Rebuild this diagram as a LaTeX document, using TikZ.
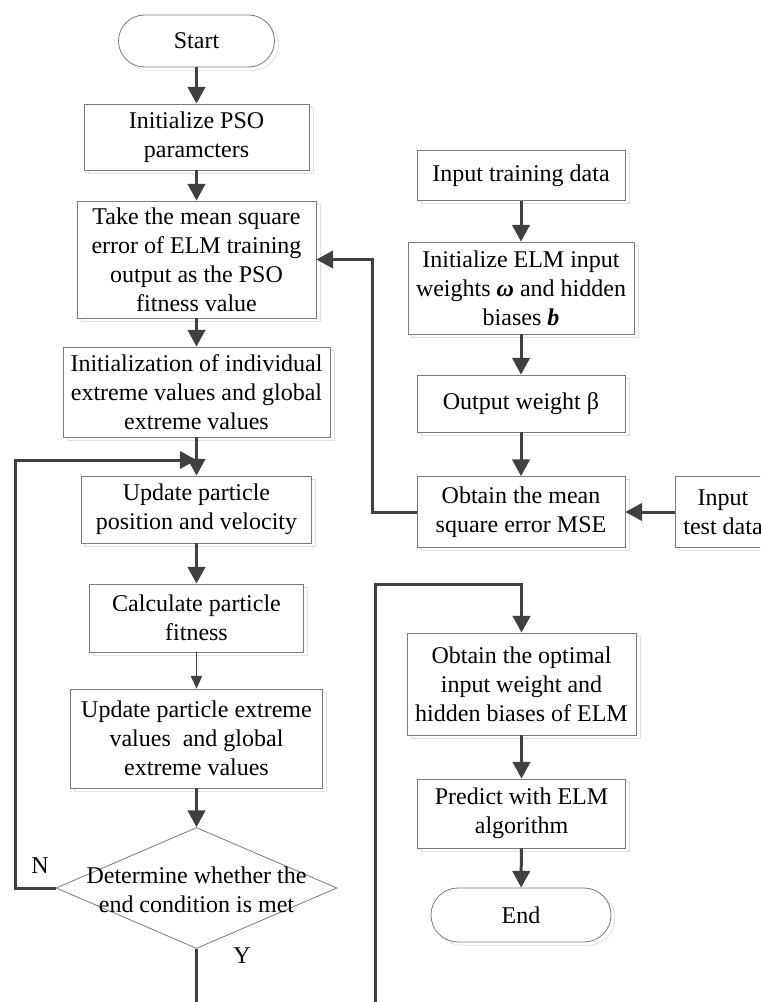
\documentclass[tikz,border=0pt]{standalone}
\usepackage{fontspec}
\setmainfont{Liberation Serif}
\usetikzlibrary{arrows.meta,shapes.geometric,shadows}
\definecolor{linegray}{HTML}{404040}
\definecolor{boxgray}{HTML}{7A7A7A}
\begin{document}
\begin{tikzpicture}[x=0.75pt,y=-0.75pt,
  font=\fontsize{18}{21.75}\selectfont,
  box/.style={draw=boxgray, line width=0.6pt, fill=white, align=center, inner sep=0pt,
    copy shadow={shadow xshift=3pt, shadow yshift=-2.5pt, draw=black!12, fill=white}},
  pill/.style={box, rounded corners=#1},
  decision/.style={diamond, draw=boxgray, line width=0.6pt, fill=white, inner sep=0pt},
  thickarr/.style={draw=linegray, line width=2.25pt, -{Triangle[length=12.5pt,width=13pt]}},
  thinarr/.style={draw=linegray, line width=0.75pt, -{Triangle[length=9.5pt,width=8.5pt]}},
  thickline/.style={draw=linegray, line width=2.25pt},
  lbl/.style={inner sep=0pt}]
\useasboundingbox (0,0) rectangle (760,1002);
\clip (0,0) rectangle (760,1002);

% left column
\node[pill=19.5pt, minimum width=117pt, minimum height=39pt] (start) at (196.5,41) {Start};
\node[box, minimum width=168.75pt, minimum height=49.5pt] (init) at (196.5,137) {Initialize PSO\\paramcters};
\node[box, minimum width=179.25pt, minimum height=87.75pt] (take) at (196.5,259.5) {Take the mean square\\error of ELM training\\output as the PSO\\fitness value};
\node[box, minimum width=200.25pt, minimum height=67.5pt] (initext) at (196.5,392) {Initialization of individual\\extreme values and global\\extreme values};
\node[box, minimum width=172.5pt, minimum height=50.25pt] (update) at (196.5,509.5) {Update particle\\position and velocity};
\node[box, minimum width=160.5pt, minimum height=51pt] (calc) at (196.5,618) {Calculate particle\\fitness};
\node[box, minimum width=189pt, minimum height=74.25pt] (upext) at (196.5,738.5) {Update particle extreme\\values\ \ and global\\extreme values};
\node[decision, minimum width=210.75pt, minimum height=90.75pt] (dec) at (196.5,888) {};
\node[lbl, align=center] (dectext) at (196.5,890) {Determine whether the\\end condition is met};
\node[lbl] (nlbl) at (40,866) {N};
\node[lbl] (ylbl) at (242,956) {Y};

% right column
\node[box, minimum width=156pt, minimum height=37.5pt] (train) at (521,175.5) {Input training data};
\node[box, minimum width=169.5pt, minimum height=69pt] (initelm) at (521,288) {Initialize ELM input\\weights {\bfseries\itshape ω} and hidden\\biases {\bfseries\itshape b}};
\node[box, minimum width=156pt, minimum height=42.75pt] (outw) at (521,403.5) {Output weight β};
\node[box, minimum width=156pt, minimum height=53.25pt] (mse) at (521,512) {Obtain the mean\\square error MSE};
\node[box, minimum width=72pt, minimum height=53.25pt] (test) at (723,512) {Input\\test data};
\node[box, minimum width=171.75pt, minimum height=76.5pt] (opt) at (521.5,684) {Obtain the optimal\\input weight and\\hidden biases of ELM};
\node[box, minimum width=156pt, minimum height=51.75pt] (pred) at (521.5,813.5) {Predict with ELM\\algorithm};
\node[pill=20.25pt, minimum width=135pt, minimum height=40.5pt] (end) at (521,915) {End};

% coordinates for free ends
\coordinate (loopin) at (196.5,460);
\coordinate (ybot) at (196.5,1012);
\coordinate (obot) at (375,1012);

% connectors left
\draw[thickarr] (start) -- (init);
\draw[thickarr] (init) -- (take);
\draw[thickarr] (take) -- (initext);
\draw[thickarr] (initext) -- (update);
\draw[thickarr] (update) -- (calc);
\draw[thinarr] (calc) -- (upext);
\draw[thickarr] (upext) -- (dec);
\draw[thickarr] (dec.west) -- ++(-40,0) |- (loopin);
\draw[thickline] (dec.south) -- (ybot);

% connectors right
\draw[thickarr] (train) -- (initelm);
\draw[thickarr] (initelm) -- (outw);
\draw[thickarr] (outw) -- (mse);
\draw[thickarr] (test) -- (mse);
\draw[thickarr] (mse.west) -- ++(-44,0) |- (take.east);
\draw[thickarr] (obot) -- ++(0,-428) -| (opt.north);
\draw[thickarr] (opt) -- (pred);
\draw[thickarr] (pred) -- (end);
\end{tikzpicture}
\end{document}
